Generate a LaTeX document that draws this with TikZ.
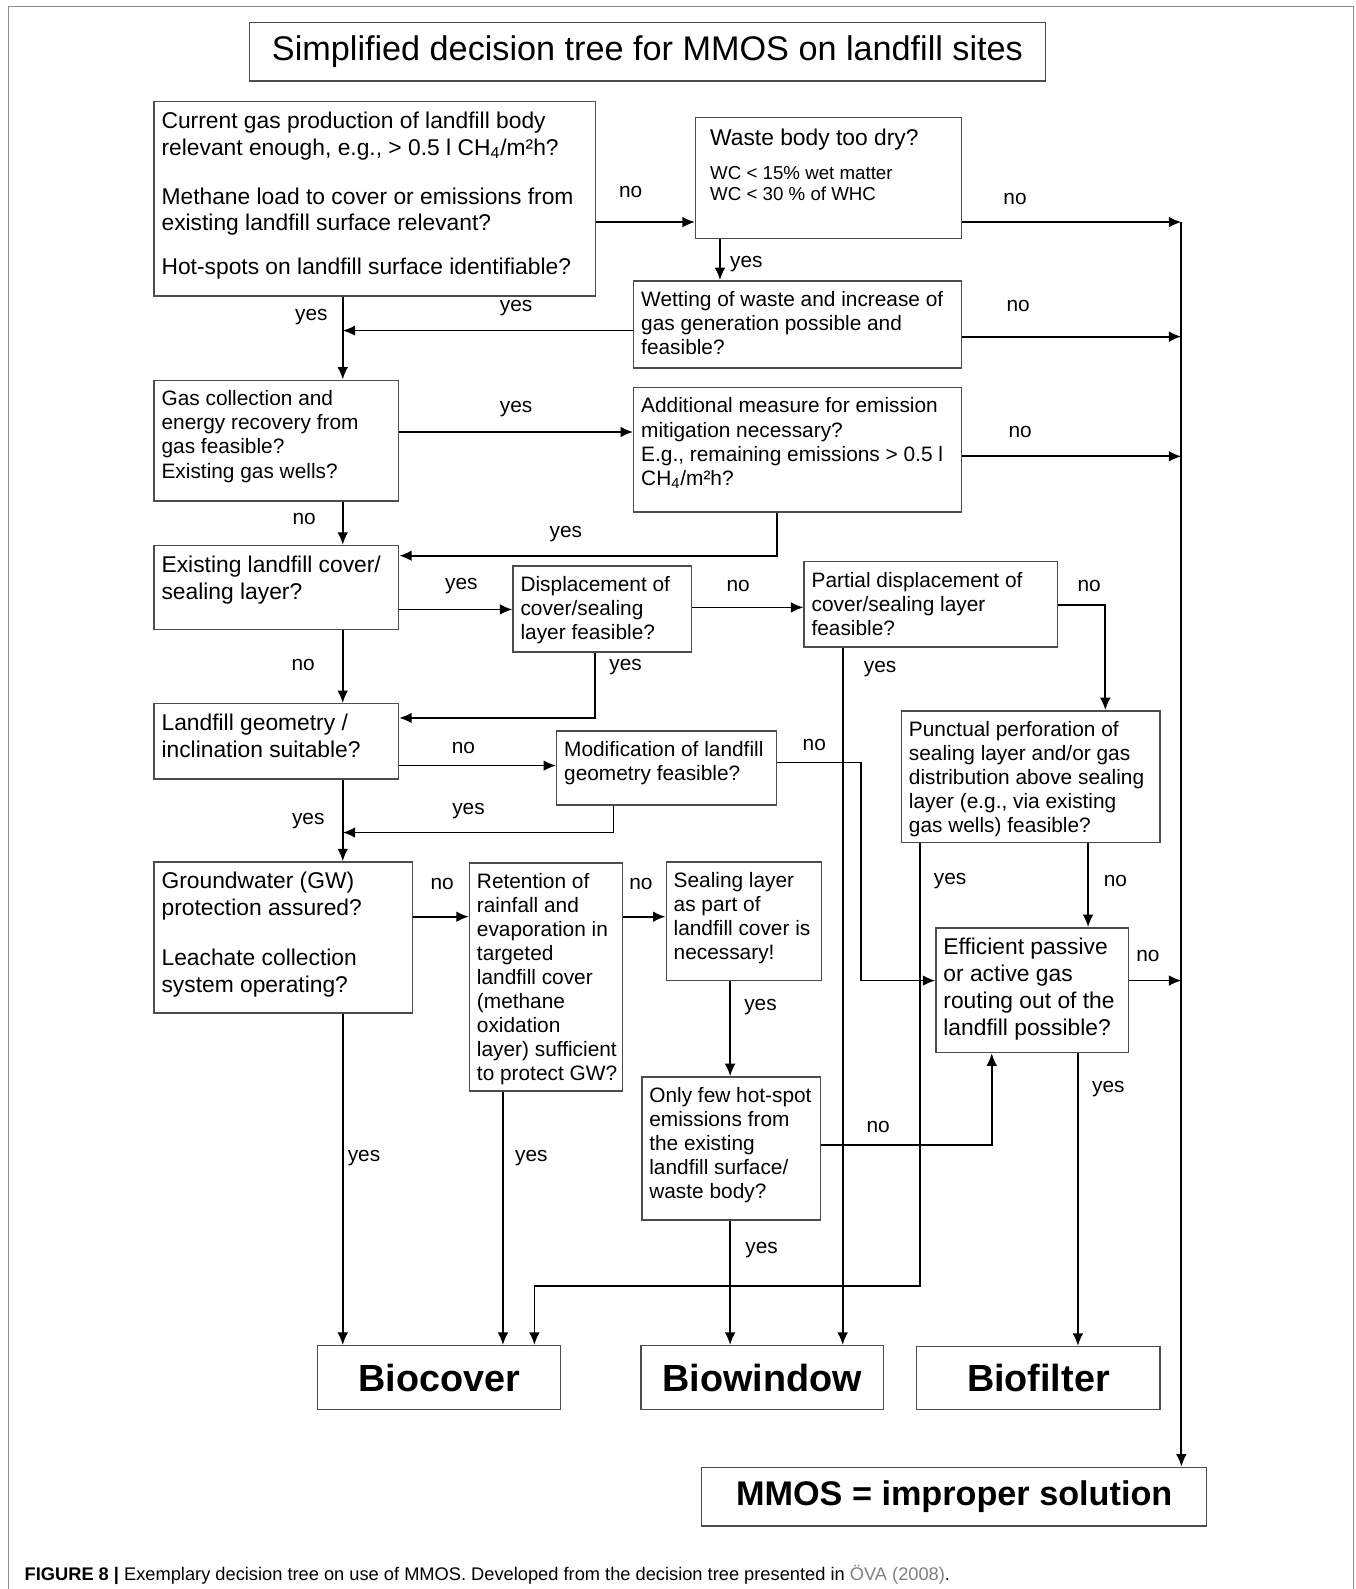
\documentclass[tikz,border=0pt]{standalone}
\usepackage{fontspec}
\setmainfont{Liberation Sans}
\usetikzlibrary{arrows.meta}
\usetikzlibrary{fit}
\usetikzlibrary{calc}

% question box: [text style]{name}{x1}{y1}{x2}{y2}{text}
\newcommand{\qbox}[7][]{%
\node[qbox, fit={(#3,#4) (#5,#6)}] (#2) {};
\node[qtext, #1] (#2-t) at (#3+7,#4+10) {#7};}

% result box: [text style]{name}{x1}{y1}{x2}{y2}{text}
\newcommand{\rbox}[7][]{%
\node[qbox, fit={(#3,#4) (#5,#6)}] (#2) {};
\node[endtxt, #1] (#2-t) at (#2.center) {#7};}

\begin{document}
\begin{tikzpicture}[x=.02cm, y=-.02cm, >={Latex[length=7pt, width=6pt]},
qbox/.style={draw=black!70, line width=.8pt, inner sep=0pt},
qtext/.style={anchor=north west, inner sep=0pt, align=left, font=\fontsize{11.7}{13.5}\selectfont},
bigtxt/.style={font=\fontsize{12.8}{15}\selectfont},
endtxt/.style={inner sep=0pt, font=\bfseries\fontsize{21.2}{24}\selectfont},
lbl/.style={inner sep=0pt, font=\fontsize{11.7}{13.5}\selectfont},
conn/.style={->, line width=1pt}]

\useasboundingbox (0,0) rectangle (1337,1567);

%%%%%% FRAME %%%%%%%%%%

\draw[black!45, line width=.6pt] (8,1567) -- (8,6) -- (1335,6) -- (1335,1567);

\rbox[font=\fontsize{19.2}{22}\selectfont]{title}{246}{22}{1031}{80}{Simplified decision tree for MMOS on landfill sites}

%%%%%% QUESTIONS %%%%%%%%%%

\qbox[bigtxt]{gasprod}{152}{100}{587}{292}{Current gas production of landfill body\\ relevant enough, e.g., > 0.5 l CH\textsubscript{4}/m²h?\\[12.5pt] Methane load to cover or emissions from\\ existing landfill surface relevant?\\[9.5pt] Hot-spots on landfill surface identifiable?}

\node[qbox, fit={(686,116) (948,235)}] (dry) {};
\node[qtext, bigtxt] (dry-t) at (700,127) {Waste body too dry?};
\node[qtext, font=\fontsize{10.5}{11.4}\selectfont] (dry-wc) at (700,164) {WC < 15\% wet matter\\ WC < 30 \% of WHC};

\qbox{wetting}{625}{277}{948}{363}{Wetting of waste and increase of\\ gas generation possible and\\ feasible?}
\qbox{collect}{152}{375}{393}{494}{Gas collection and\\ energy recovery from\\ gas feasible?\\ Existing gas wells?}
\qbox{addmeas}{625}{382}{948}{505}{Additional measure for emission\\ mitigation necessary?\\ E.g., remaining emissions > 0.5 l\\ CH\textsubscript{4}/m²h?}
\qbox[bigtxt]{cover}{152}{538}{393}{621}{Existing landfill cover/\\ sealing layer?}
\qbox{displace}{506}{558}{682}{643}{Displacement of\\ cover/sealing\\ layer feasible?}
\qbox{partial}{793}{554}{1043}{638}{Partial displacement of\\ cover/sealing layer\\ feasible?}
\qbox[bigtxt]{geometry}{152}{694}{393}{768}{Landfill geometry /\\ inclination suitable?}
\qbox{modify}{549}{721}{766}{794}{Modification of landfill\\ geometry feasible?}
\qbox{perforation}{889}{701}{1144}{831}{Punctual perforation of\\ sealing layer and/or gas\\ distribution above sealing\\ layer (e.g., via existing\\ gas wells) feasible?}
\qbox[bigtxt]{groundwater}{152}{850}{407}{999}{Groundwater (GW)\\ protection assured?\\[13pt] Leachate collection\\ system operating?}
\qbox{retention}{463}{851}{614}{1076}{Retention of\\ rainfall and\\ evaporation in\\ targeted\\ landfill cover\\ (methane\\ oxidation\\ layer) sufficient\\ to protect GW?}
\qbox{sealing}{657}{850}{810}{967}{Sealing layer\\ as part of\\ landfill cover is\\ necessary!}
\qbox[bigtxt]{passive}{923}{915}{1113}{1038}{Efficient passive\\ or active gas\\ routing out of the\\ landfill possible?}
\qbox{hotspot}{633}{1062}{809}{1203}{Only few hot-spot\\ emissions from\\ the existing\\ landfill surface/\\ waste body?}

%%%%%% RESULTS %%%%%%%%%%

\rbox{biocover}{313}{1327}{553}{1390}{Biocover}
\rbox{biowindow}{632}{1327}{871}{1390}{Biowindow}
\rbox{biofilter}{904}{1328}{1144}{1390}{Biofilter}
\rbox[font=\bfseries\fontsize{19.2}{22}\selectfont]{improper}{692}{1447}{1190}{1505}{MMOS = improper solution}

%%%%%% CONNECTORS %%%%%%%%%%

\coordinate (trunk) at (338,0);
\coordinate (bus) at (1165,219);

\draw[conn] (gasprod.east |- 0,219) -- (dry.west |- 0,219);
\draw[conn] (dry.east |- bus) -- (bus);
\draw[conn] (wetting.east |- 0,332) -- (bus |- 0,332);
\draw[conn] (addmeas.east |- 0,450) -- (bus |- 0,450);
\draw[conn] (passive.east |- 0,967) -- (bus |- 0,967);
\draw[conn] (bus) -- (bus |- improper.north);

\draw[conn] (dry.south -| 710,0) -- (wetting.north -| 710,0);
\draw[conn] (wetting.west |- 0,326) -- (trunk |- 0,326);
\draw[conn] (trunk |- gasprod.south) -- (trunk |- collect.north);
\draw[conn] (collect.east |- 0,426) -- (addmeas.west |- 0,426);
\draw[conn] (addmeas.south -| 766,0) |- (cover.east |- 0,548);
\draw[conn] (trunk |- collect.south) -- (trunk |- cover.north);
\draw[conn] (cover.east |- 0,601) -- (displace.west |- 0,601);
\draw[conn] (displace.east |- 0,599) -- (partial.west |- 0,599);
\draw[conn] (displace.south -| 587,0) |- (geometry.east |- 0,708);
\draw[conn] (trunk |- cover.south) -- (trunk |- geometry.north);
\draw[conn] (partial.east |- 0,597) -| (perforation.north -| 1090,0);
\draw[conn] (partial.south -| 831,0) -- (biowindow.north -| 831,0);
\draw[conn] (geometry.east |- 0,755) -- (modify.west |- 0,755);
\draw[conn] (trunk |- geometry.south) -- (trunk |- groundwater.north);
\draw[conn] (modify.south -| 605,0) |- (trunk |- 0,821);
\draw[conn] (modify.east |- 0,752) -| (849,967) -- (passive.west |- 0,967);
\draw[conn] (perforation.south -| 907,0) |- (527,1268) -- (biocover.north -| 527,0);
\draw[conn] (perforation.south -| 1073,0) -- (passive.north -| 1073,0);
\draw[conn] (passive.south -| 1063,0) -- (biofilter.north -| 1063,0);
\draw[conn] (groundwater.east |- 0,904) -- (retention.west |- 0,904);
\draw[conn] (trunk |- groundwater.south) -- (trunk |- biocover.north);
\draw[conn] (retention.east |- 0,904) -- (sealing.west |- 0,904);
\draw[conn] (retention.south -| 496,0) -- (biocover.north -| 496,0);
\draw[conn] (sealing.south -| 720,0) -- (hotspot.north -| 720,0);
\draw[conn] (hotspot.east |- 0,1129) -| (passive.south -| 978,0);
\draw[conn] (hotspot.south -| 720,0) -- (biowindow.north -| 720,0);

%%%%%% LABELS %%%%%%%%%%

\foreach \x/\y/\t [count=\i] in {622/189/no, 1001/196/no, 736/260/yes, 1004/302/no,
  509/304/yes, 307/313/yes, 509/403/yes, 1006/426/no, 300/512/no, 558/527/yes,
  455/578/yes, 728/578/no, 1074/578/no, 299/656/no, 617/658/yes, 868/660/yes,
  457/738/no, 803/735/no, 462/800/yes, 304/810/yes, 436/872/no, 632/872/no,
  937/869/yes, 1100/869/no, 1132/943/no, 750/993/yes, 1093/1074/yes, 866/1111/no,
  359/1142/yes, 524/1142/yes, 751/1233/yes}
  \node[lbl] (lbl\i) at (\x,\y) {\t};

\node[anchor=west, inner sep=0pt, font=\fontsize{10.25}{12}\selectfont] (caption) at (24,1553) {\textbf{FIGURE 8 |} Exemplary decision tree on use of MMOS. Developed from the decision tree presented in \textcolor{black!50}{ÖVA (2008)}.};
\end{tikzpicture}
\end{document}
